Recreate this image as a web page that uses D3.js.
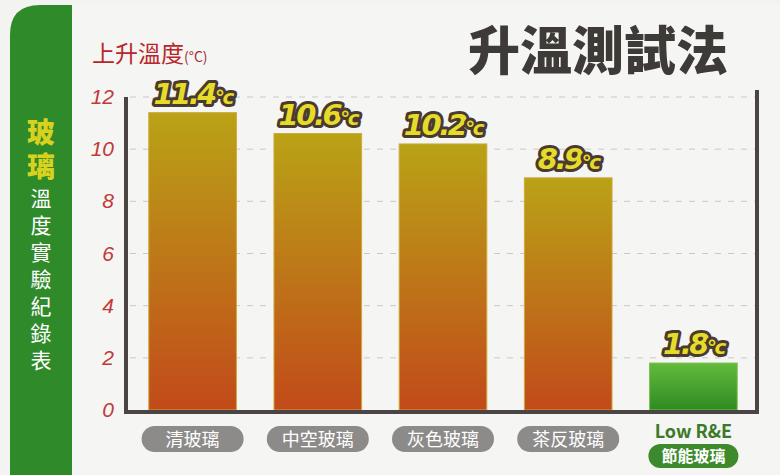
<!DOCTYPE html><html><head><meta charset="utf-8"><script src="https://cdn.jsdelivr.net/npm/d3@7"></script>
<style>body{margin:0;background:#f2f2f0}svg{display:block}</style></head><body><svg id="c" width="780" height="475"></svg><script>
const categories=["清玻璃","中空玻璃","灰色玻璃","茶反玻璃","節能玻璃"];
const values=[11.4,10.6,10.2,8.9,1.8];
const valueLabels=["11.4","10.6","10.2","8.9","1.8"];
const yTicks=[0,2,4,6,8,10,12];
const svg=d3.select("#c");
const F="'Noto Sans CJK TC','Noto Sans',sans-serif";
svg.append("rect").attr("width",780).attr("height",475).attr("fill","#f3f3f1");
const defs=svg.append("defs");
const g1=defs.append("linearGradient").attr("id","gy").attr("x1",0).attr("x2",0).attr("y1",0).attr("y2",1);
g1.append("stop").attr("offset",0).attr("stop-color","#b9a316");g1.append("stop").attr("offset",1).attr("stop-color","#c24a1a");
const g2=defs.append("linearGradient").attr("id","gg").attr("x1",0).attr("x2",0).attr("y1",0).attr("y2",1);
g2.append("stop").attr("offset",0).attr("stop-color","#62bb3c");g2.append("stop").attr("offset",1).attr("stop-color","#2f8a23");
svg.append("path").attr("d","M10,475 L10,35 Q10,5 40,5 L72,5 L72,475 Z").attr("fill","#2f8a2a");
svg.append("rect").attr("x",72).attr("y",5).attr("width",708).attr("height",470).attr("fill","#f5f5f3");
const side1=["玻","璃"],side2=["溫","度","實","驗","紀","錄","表"];
side1.forEach((c,i)=>svg.append("text").attr("x",41).attr("y",143+i*34).attr("text-anchor","middle").attr("font-family",F).attr("font-weight",900).attr("font-size",28).attr("fill","#d8d21e").text(c));
side2.forEach((c,i)=>svg.append("text").attr("x",41).attr("y",206+i*27).attr("text-anchor","middle").attr("font-family",F).attr("font-size",21).attr("fill","#ffffff").text(c));
svg.append("text").attr("x",728).attr("y",70).attr("text-anchor","end").attr("font-family",F).attr("font-weight",900).attr("font-size",52).attr("fill","#3e3a38").text("升溫測試法");
const t=svg.append("text").attr("x",92).attr("y",62).attr("font-family",F).attr("font-size",23).attr("fill","#b8262a").text("上升溫度");
t.append("tspan").attr("font-size",14).attr("fill","#a03030").text("(°C)");
const y=d3.scaleLinear().domain([0,12]).range([410,97]);
const x=d3.scaleBand().domain(categories).range([130,756]).paddingInner(0.3).paddingOuter(0.15);
yTicks.forEach(v=>{ if(v>0) svg.append("line").attr("x1",130).attr("x2",756).attr("y1",y(v)).attr("y2",y(v)).attr("stroke","#c8c8c8").attr("stroke-dasharray","6,7");
 svg.append("text").attr("x",114).attr("y",y(v)+7).attr("text-anchor","end").attr("font-family","'Liberation Sans',sans-serif").attr("font-style","italic").attr("font-size",21).attr("fill","#c03a3a").text(v);});
svg.selectAll(".b").data(values).enter().append("rect").attr("x",(d,i)=>x(categories[i])).attr("width",x.bandwidth()).attr("y",d=>y(d)).attr("height",d=>y(0)-y(d)).attr("fill",(d,i)=>i==4?"url(#gg)":"url(#gy)").attr("stroke",(d,i)=>i==4?"#7cc050":"#d0a838").attr("stroke-width",1);
svg.append("path").attr("d",`M126,97 L126,412 L757,412 L757,90`).attr("fill","none").attr("stroke","#4a4444").attr("stroke-width",4);
values.forEach((d,i)=>{const cx=x(categories[i])+x.bandwidth()/2;
 const tt=svg.append("text").attr("x",cx).attr("y",y(d)-9).attr("text-anchor","middle").attr("font-family","'DejaVu Sans',sans-serif").attr("font-weight",900).attr("font-style","italic").attr("font-size",29).attr("letter-spacing",-2.5).attr("fill","#e4dc28").attr("stroke","#4a3a30").attr("stroke-width",6).attr("paint-order","stroke").attr("stroke-linejoin","round");
 tt.append("tspan").text(valueLabels[i]);tt.append("tspan").attr("font-size",20).text("°c");});
categories.forEach((c,i)=>{const cx=x(c)+x.bandwidth()/2;
 if(i<4){svg.append("rect").attr("x",cx-51).attr("y",426).attr("width",102).attr("height",26).attr("rx",13).attr("fill","#8d8b8a");
 svg.append("text").attr("x",cx).attr("y",446).attr("text-anchor","middle").attr("font-family",F).attr("font-size",18).attr("fill","#fff").text(c);}
 else{svg.append("text").attr("x",cx).attr("y",438).attr("text-anchor","middle").attr("font-family",F).attr("font-weight",700).attr("font-size",18).attr("fill","#3a7a28").text("Low R&E");
 svg.append("rect").attr("x",cx-45).attr("y",444).attr("width",90).attr("height",24).attr("rx",12).attr("fill","#3d8a2c");
 svg.append("text").attr("x",cx).attr("y",462).attr("text-anchor","middle").attr("font-family",F).attr("font-weight",700).attr("font-size",16).attr("fill","#fff").text(c);}});
</script></body></html>
